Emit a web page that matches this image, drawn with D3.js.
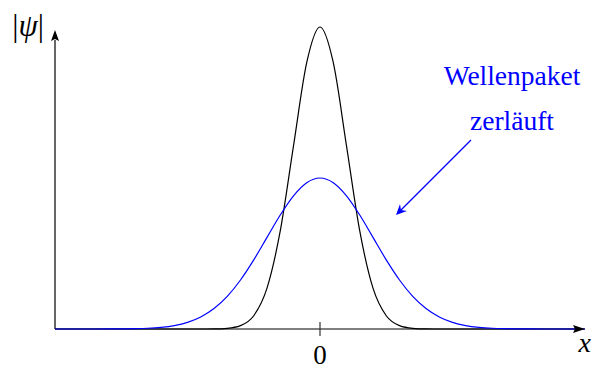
<!DOCTYPE html>
<html>
<head>
<meta charset="utf-8">
<script src="https://cdn.jsdelivr.net/npm/d3@7"></script>
<style>
  body { margin: 0; background: #fff; }
  svg { display: block; }
  text { font-family: "Liberation Serif", "DejaVu Serif", serif; }
</style>
</head>
<body>
<script>
// sample positions along x (arbitrary units, 0 in the middle)
const xs = [-5, -4.5, -4, -3.75, -3.5, -3.25, -3, -2.75, -2.5, -2.25, -2, -1.75, -1.5, -1.25, -1, -0.75, -0.5, -0.25,
  0, 0.25, 0.5, 0.75, 1, 1.25, 1.5, 1.75, 2, 2.25, 2.5, 2.75, 3, 3.25, 3.5, 3.75, 4, 4.5, 5];

// narrow packet (black)
const narrow = [0, 0, 0, 0, 0, 0, 0, 0, 0, 0, 0.0003, 0.0022, 0.0111, 0.0439, 0.1353, 0.3247, 0.6065, 0.8825,
  1, 0.8825, 0.6065, 0.3247, 0.1353, 0.0439, 0.0111, 0.0022, 0.0003, 0, 0, 0, 0, 0, 0, 0, 0, 0, 0];

// spread packet (blue)
const spread = [0, 0, 0.0002, 0.0004, 0.0011, 0.0025, 0.0056, 0.0114, 0.022, 0.0398, 0.0677, 0.1081, 0.1623, 0.2289, 0.3033, 0.3774, 0.4412, 0.4846,
  0.5, 0.4846, 0.4412, 0.3774, 0.3033, 0.2289, 0.1623, 0.1081, 0.0677, 0.0398, 0.022, 0.0114, 0.0056, 0.0025, 0.0011, 0.0004, 0.0002, 0, 0];

const xTicks = [0];
const annotation = ['Wellenpaket', 'zerläuft'];

const width = 592, height = 369;

const svg = d3.select('body').append('svg')
  .attr('width', width)
  .attr('height', height);

const x = d3.scaleLinear().domain([-5, 5]).range([55, 585]);
const y = d3.scaleLinear().domain([0, 1]).range([329, 27]);

const line = d3.line()
  .x((d, i) => x(xs[i]))
  .y(d => y(d))
  .curve(d3.curveMonotoneX);

// axes
svg.append('line')
  .attr('x1', x(-5)).attr('x2', 576)
  .attr('y1', y(0)).attr('y2', y(0))
  .attr('stroke', '#000').attr('stroke-width', 1.2);
svg.append('line')
  .attr('x1', x(-5)).attr('x2', x(-5))
  .attr('y1', y(0)).attr('y2', 40)
  .attr('stroke', '#000').attr('stroke-width', 1.2);

svg.append('path')
  .attr('d', line(narrow))
  .attr('fill', 'none')
  .attr('stroke', '#000')
  .attr('stroke-width', 1.2);

svg.append('path')
  .attr('d', line(spread))
  .attr('fill', 'none')
  .attr('stroke', '#0000ff')
  .attr('stroke-width', 1.2);

// arrow heads
svg.append('path')
  .attr('d', `M585,${y(0)} L573,${y(0) - 4} L575,${y(0)} L573,${y(0) + 4} Z`)
  .attr('fill', '#000');
svg.append('path')
  .attr('d', `M${x(-5)},30 L${x(-5) - 4},41 L${x(-5)},39 L${x(-5) + 4},41 Z`)
  .attr('fill', '#000');

// ticks
svg.selectAll('.tick')
  .data(xTicks)
  .join('line')
  .attr('class', 'tick')
  .attr('x1', d => x(d)).attr('x2', d => x(d))
  .attr('y1', y(0) - 7).attr('y2', y(0) + 7)
  .attr('stroke', '#333').attr('stroke-width', 1.2);

svg.selectAll('.ticklabel')
  .data(xTicks)
  .join('text')
  .attr('class', 'ticklabel')
  .attr('x', d => x(d))
  .attr('y', 364)
  .attr('text-anchor', 'middle')
  .attr('font-size', 27)
  .text(d => d);

// axis labels
svg.append('text')
  .attr('x', 591).attr('y', 352)
  .attr('text-anchor', 'end')
  .attr('font-size', 28)
  .attr('font-style', 'italic')
  .text('x');

const ylab = svg.append('text')
  .attr('x', 44).attr('y', 36)
  .attr('text-anchor', 'end')
  .attr('font-size', 31);
ylab.append('tspan').text('|');
ylab.append('tspan').attr('font-style', 'italic').text('ψ');
ylab.append('tspan').text('|');

// annotation
svg.selectAll('.note')
  .data(annotation)
  .join('text')
  .attr('class', 'note')
  .attr('x', 512)
  .attr('y', (d, i) => 85 + i * 45)
  .attr('text-anchor', 'middle')
  .attr('font-size', 27.5)
  .attr('fill', '#0000ff')
  .text(d => d);

svg.append('line')
  .attr('x1', 471).attr('y1', 140)
  .attr('x2', 401).attr('y2', 210)
  .attr('stroke', '#0000ff').attr('stroke-width', 1.2);
svg.append('path')
  .attr('d', 'M396,215 L400,204 L401,210 L407,211 Z')
  .attr('fill', '#0000ff');
</script>
</body>
</html>
